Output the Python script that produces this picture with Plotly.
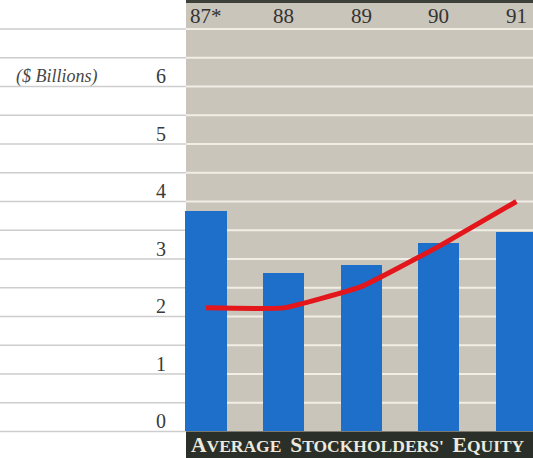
import plotly.graph_objects as go

# Fiscal years and values ($ billions)
years = ["87*", "88", "89", "90", "91"]
equity_bars = [3.84, 2.75, 2.90, 3.27, 3.47]
trend_line = [2.15, 2.15, 2.52, 3.22, 4.00]
y_tick_values = [0, 1, 2, 3, 4, 5, 6]
y_tick_labels = ["0", "1", "2", "3", "4", "5", "6"]
grid_values = [v / 2 for v in range(0, 15)]
title_words = ["Average", "Stockholders'", "Equity"]

W, H = 533, 458
PANEL_LEFT = 186 / W
BAR_BLUE = "#1d6fc9"
PANEL_GRAY = "#cac5ba"
DARK_BAND = "#2a3029"
SERIF = "Liberation Serif, Times New Roman, serif"


def small_caps(word, big=21.5, small=17.5):
    """Build a small-caps word from sized spans."""
    return (f'<span style="font-size:{big}px">{word[0].upper()}</span>'
            f'<span style="font-size:{small}px">{word[1:].upper()}</span>')


fig = go.Figure()

fig.add_trace(go.Bar(
    x=years, y=equity_bars, width=0.53,
    marker=dict(color=BAR_BLUE, line=dict(width=0)),
    hoverinfo="skip",
))
fig.add_trace(go.Scatter(
    x=years, y=trend_line, mode="lines",
    line=dict(color="#e3161b", width=5, shape="spline", smoothing=0.35),
    hoverinfo="skip",
))

shapes = [
    # shaded data panel
    dict(type="rect", xref="paper", yref="paper", x0=PANEL_LEFT, x1=1, y0=0, y1=1,
         fillcolor=PANEL_GRAY, line=dict(width=0), layer="below"),
    # thin dark strip along the top of the panel
    dict(type="rect", xref="paper", yref="paper", x0=PANEL_LEFT, x1=1, y0=1 - 3 / H, y1=1,
         fillcolor="#3c4039", line=dict(width=0), layer="above"),
    # title band under the bars
    dict(type="rect", xref="paper", yref="y", x0=PANEL_LEFT, x1=1, y0=-1, y1=0,
         fillcolor=DARK_BAND, line=dict(width=0), layer="above"),
]
for g in grid_values:
    shapes.append(dict(type="line", xref="paper", yref="y", x0=0, x1=PANEL_LEFT, y0=g, y1=g,
                       line=dict(color="#cdcdcd", width=1.5), layer="between"))
    if g > 0:
        shapes.append(dict(type="line", xref="paper", yref="y", x0=PANEL_LEFT, x1=1, y0=g, y1=g,
                           line=dict(color="#f1eee6", width=2.2), layer="between"))

annotations = []
for v, t in zip(y_tick_values, y_tick_labels):
    annotations.append(dict(
        x=168 / W, xref="paper", xanchor="right", y=v, yref="y", yanchor="bottom",
        yshift=-3, text=t, showarrow=False,
        font=dict(family=SERIF, size=20, color="#3a3a3a"),
    ))
for i, yr in enumerate(years):
    annotations.append(dict(
        x=i, xref="x", xanchor="center", y=1, yref="paper", yanchor="top",
        yshift=-2, text=yr, showarrow=False,
        font=dict(family=SERIF, size=21, color="#333333"),
    ))
annotations.append(dict(
    x=14 / W, xref="paper", xanchor="left", y=6.17, yref="y", yanchor="middle",
    text="<i>($ Billions)</i>", showarrow=False,
    font=dict(family=SERIF, size=18, color="#474747"),
))
annotations.append(dict(
    x=189 / W, xref="paper", xanchor="left", y=-0.23, yref="y", yanchor="middle",
    text="<b>" + "  ".join(small_caps(w) for w in title_words) + "</b>",
    showarrow=False,
    font=dict(family=SERIF, size=17.5, color="#ede9de"),
))

fig.update_layout(
    width=W, height=H,
    margin=dict(l=0, r=0, t=0, b=0),
    paper_bgcolor="white", plot_bgcolor="white",
    showlegend=False,
    bargap=0,
    xaxis=dict(type="category", range=[-2.655, 4.214], showgrid=False, zeroline=False,
               showticklabels=False, ticks=""),
    yaxis=dict(range=[-0.461, 7.504], showgrid=False, zeroline=False,
               showticklabels=False, ticks=""),
    shapes=shapes,
    annotations=annotations,
)

fig.write_html("out.html")
